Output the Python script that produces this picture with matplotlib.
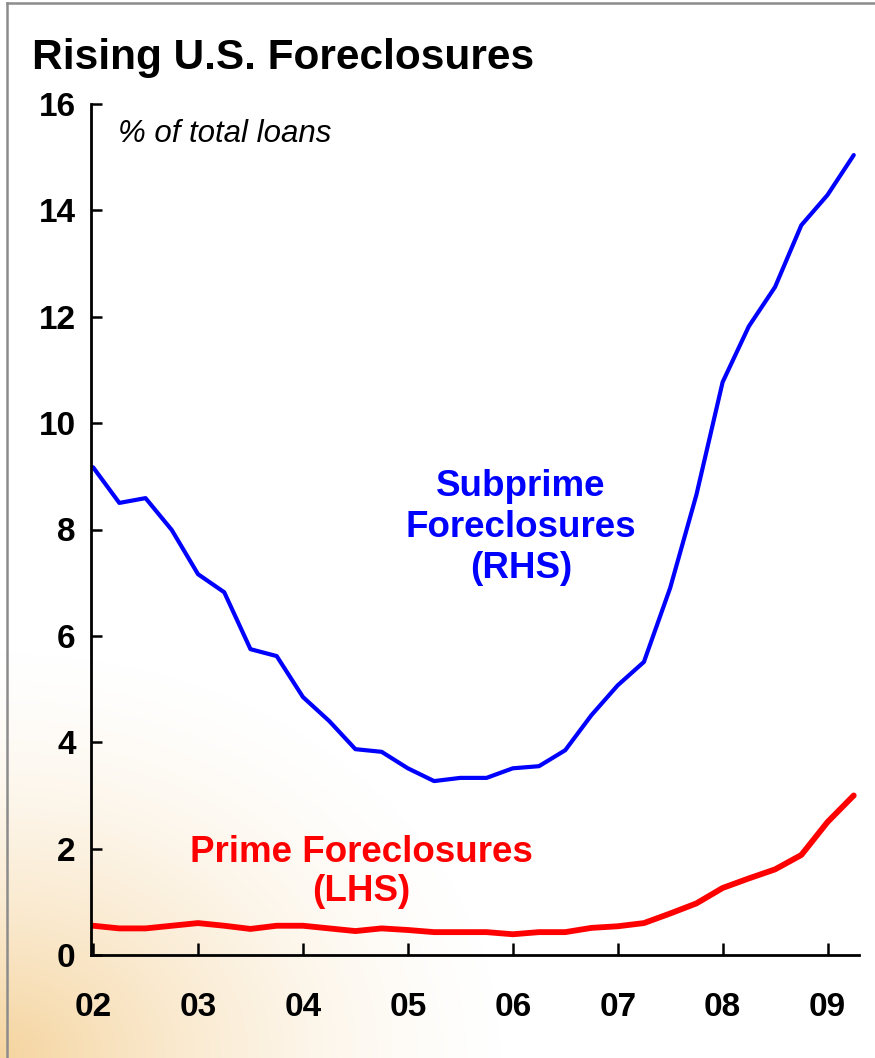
import numpy as np
import pandas as pd
import matplotlib
matplotlib.use("Agg")
import matplotlib.pyplot as plt

plt.rcParams["font.family"] = ["Liberation Sans", "DejaVu Sans"]

# quarterly data, 2002Q1 .. 2009Q2 (% of total loans)
quarters = pd.period_range("2002Q1", "2009Q2", freq="Q")
subprime = [9.17, 8.50, 8.59, 7.99, 7.16, 6.82, 5.75, 5.62, 4.85, 4.40,
            3.87, 3.82, 3.51, 3.27, 3.33, 3.33, 3.51, 3.55, 3.85, 4.51,
            5.07, 5.51, 6.90, 8.65, 10.77, 11.82, 12.56, 13.72, 14.29, 15.04]
prime = [0.55, 0.50, 0.50, 0.55, 0.60, 0.55, 0.49, 0.55, 0.55, 0.50,
         0.45, 0.50, 0.47, 0.43, 0.43, 0.43, 0.39, 0.43, 0.43, 0.51,
         0.54, 0.60, 0.78, 0.97, 1.26, 1.44, 1.61, 1.88, 2.50, 3.00]
years = [2002, 2003, 2004, 2005, 2006, 2007, 2008, 2009]
year_labels = ["02", "03", "04", "05", "06", "07", "08", "09"]
y_ticks = [0, 2, 4, 6, 8, 10, 12, 14, 16]

x = np.array([p.year + (p.quarter - 1) / 4 for p in quarters])

W, H = 875, 1058
fig = plt.figure(figsize=(W / 100, H / 100), dpi=100)
fig.patch.set_facecolor("white")

# warm slide-background glow in the lower left corner
bg = fig.add_axes([0, 0, 1, 1], zorder=-5)
gx, gy = np.meshgrid(np.linspace(0, W, 300), np.linspace(0, H, 360))
d = np.sqrt((gx / 520) ** 2 + (gy / 420) ** 2)
alpha = np.clip(1 - d, 0, 1) ** 1.6 * 0.75
img = np.zeros(gx.shape + (4,))
img[..., 0] = 0.95
img[..., 1] = 0.78
img[..., 2] = 0.50
img[..., 3] = alpha
bg.imshow(img, extent=[0, W, 0, H], origin="lower", aspect="auto")
bg.plot([7, 7], [0, H - 3], color="#8c8c8c", lw=1.8)
bg.plot([7, W], [H - 3, H - 3], color="#8c8c8c", lw=1.8)
bg.set_xlim(0, W); bg.set_ylim(0, H); bg.axis("off")

ax = fig.add_axes([91 / W, 1 - 955 / H, 768 / W, 851 / H])
ax.patch.set_alpha(0)
ax.plot(x, subprime, color="#0000ff", lw=3.0, solid_joinstyle="round", solid_capstyle="round")
ax.plot(x, prime, color="#ff0000", lw=4.2, solid_joinstyle="round", solid_capstyle="round")

ax.set_xlim(2001.98, 2009.30)
ax.set_ylim(0, 16)
ax.set_yticks(y_ticks)
ax.set_yticklabels([str(t) for t in y_ticks])
ax.set_xticks(years)
ax.set_xticklabels(year_labels)
for s in ["top", "right"]:
    ax.spines[s].set_visible(False)
for s in ["left", "bottom"]:
    ax.spines[s].set_linewidth(2.0)
ax.tick_params(axis="y", direction="in", length=8, width=1.8, pad=11,
               labelsize=24)
ax.tick_params(axis="x", direction="in", length=9, width=1.8, pad=27,
               labelsize=24)
for lbl in ax.get_xticklabels() + ax.get_yticklabels():
    lbl.set_fontweight("bold")

fig.text(32 / W, 1 - 69 / H, "Rising U.S. Foreclosures", fontsize=30.5,
         fontweight="bold", va="baseline", ha="left")
ax.text(0.035, 0.965, "% of total loans", transform=ax.transAxes,
        fontsize=22.5, fontstyle="italic", va="center", ha="left")
ax.text(2006.08, 8.03, "Subprime\nForeclosures\n(RHS)", color="#0000ff",
        fontsize=26.5, fontweight="bold", ha="center", va="center",
        linespacing=1.22)
ax.text(2004.56, 1.56, "Prime Foreclosures\n(LHS)", color="#ff0000",
        fontsize=26.5, fontweight="bold", ha="center", va="center",
        linespacing=1.15)

fig.savefig("out.png", dpi=100)
